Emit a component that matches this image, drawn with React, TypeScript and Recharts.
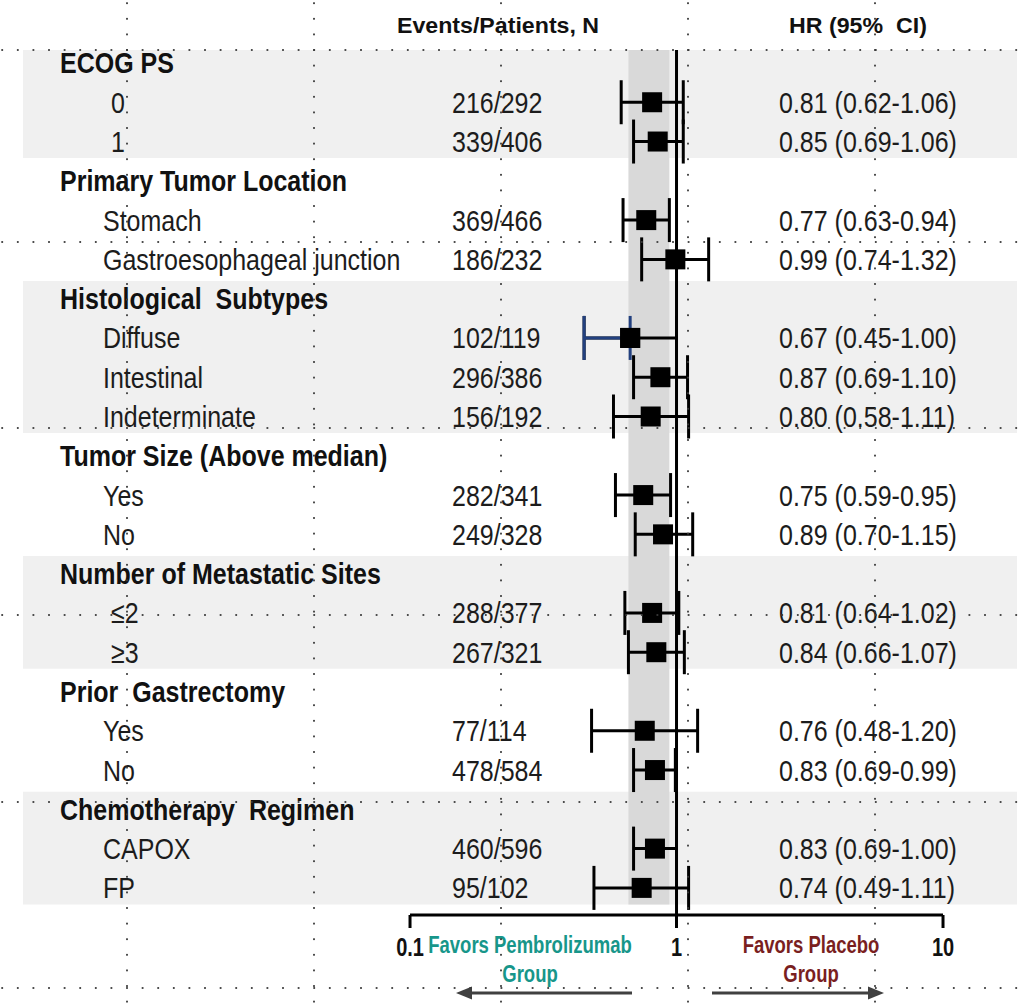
import React from 'react';
import {
  ComposedChart,
  Scatter,
  XAxis,
  YAxis,
  ErrorBar,
  ReferenceArea,
  ReferenceLine,
} from 'recharts';

// Subgroup analysis: events / patients and hazard ratios with 95% CI
const groupTitles = [
  'ECOG PS',
  'Primary Tumor Location',
  'Histological  Subtypes',
  'Tumor Size (Above median)',
  'Number of Metastatic Sites',
  'Prior  Gastrectomy',
  'Chemotherapy  Regimen',
];
const groupSizes = [2, 2, 3, 2, 2, 2, 2];
const subgroups = [
  '0', '1',
  'Stomach', 'Gastroesophageal junction',
  'Diffuse', 'Intestinal', 'Indeterminate',
  'Yes', 'No',
  '≤2', '≥3',
  'Yes', 'No',
  'CAPOX', 'FP',
];
const events = [216, 339, 369, 186, 102, 296, 156, 282, 249, 288, 267, 77, 478, 460, 95];
const patients = [292, 406, 466, 232, 119, 386, 192, 341, 328, 377, 321, 114, 584, 596, 102];
const hazardRatio = [0.81, 0.85, 0.77, 0.99, 0.67, 0.87, 0.8, 0.75, 0.89, 0.81, 0.84, 0.76, 0.83, 0.83, 0.74];
const ciLower = [0.62, 0.69, 0.63, 0.74, 0.45, 0.69, 0.58, 0.59, 0.7, 0.64, 0.66, 0.48, 0.69, 0.69, 0.49];
const ciUpper = [1.06, 1.06, 0.94, 1.32, 1.0, 1.1, 1.11, 0.95, 1.15, 1.02, 1.07, 1.2, 0.99, 1.0, 1.11];
const overallCI = [0.66, 0.94];
const hrTicks = [0.1, 1, 10];

const W = 1025;
const H = 1003;
const X_DOMAIN: [number, number] = [0.00353, 18.95];
const Y_MIN = -0.33;
const Y_MAX = 21.69;
const FONT = "'Liberation Sans', Arial, sans-serif";

type Row = { row: number; header: boolean; label: string; idx: number; group: number; hr: number };

const rows: Row[] = [];
let n = 0;
groupTitles.forEach((title, g) => {
  rows.push({ row: rows.length, header: true, label: title, idx: -1, group: g, hr: 1 });
  for (let j = 0; j < groupSizes[g]; j++) {
    rows.push({ row: rows.length, header: false, label: subgroups[n], idx: n, group: g, hr: 1 });
    n++;
  }
});

const points = rows
  .filter((r) => !r.header)
  .map((r) => {
    const hr = hazardRatio[r.idx];
    return {
      row: r.row,
      hr,
      label: r.label,
      err: [hr - ciLower[r.idx], ciUpper[r.idx] - hr],
      lowerErr: [hr - ciLower[r.idx], 0],
    };
  });

// the diffuse-type row has its lower whisker drawn in blue
const diffusePoints = points.filter((p) => p.label === 'Diffuse');

// alternate groups get a light background band
const bands = groupTitles
  .map((_, g) => {
    const gr = rows.filter((r) => r.group === g);
    return { g, y1: Math.max(Y_MIN, gr[0].row - 0.45), y2: gr[gr.length - 1].row + 0.42 };
  })
  .filter((b) => b.g % 2 === 0);

const lastRow = rows.length - 1;

const hrText = (i: number) =>
  `${hazardRatio[i].toFixed(2)} (${ciLower[i].toFixed(2)}-${ciUpper[i].toFixed(2)})`;

function Txt(props: {
  x: number;
  y: number;
  size: number;
  sx?: number;
  sy?: number;
  anchor?: 'start' | 'middle' | 'end';
  bold?: boolean;
  fill?: string;
  children: React.ReactNode;
}) {
  const { x, y, size, sx = 1, sy = 1.2, anchor = 'start', bold = false, fill = '#1c1c1c', children } = props;
  return (
    <text
      transform={`translate(${x},${y}) scale(${sx},${sy})`}
      textAnchor={anchor}
      fontSize={size}
      fontWeight={bold ? 700 : 400}
      fill={fill}
      fontFamily={FONT}
      style={{ whiteSpace: 'pre' }}
    >
      {children}
    </text>
  );
}

// table text for one row, placed at the row's y position
function RowText(props: any) {
  const { cy, payload } = props;
  const r: Row = payload;
  const base = cy + 10.5;
  if (r.header) {
    return (
      <Txt x={60} y={base} size={25} bold fill="#111">
        {r.label}
      </Txt>
    );
  }
  const i = r.idx;
  // numeric levels sit a little further in
  const lx = /\d/.test(r.label) ? 111 : 103;
  return (
    <g>
      <Txt x={lx} y={base} size={25}>{r.label}</Txt>
      <Txt x={452} y={base} size={25}>{`${events[i]}/${patients[i]}`}</Txt>
      <Txt x={779} y={base} size={25}>{hrText(i)}</Txt>
    </g>
  );
}

function HrTick(props: any) {
  const { x, payload } = props;
  return (
    <Txt x={x} y={956} size={20} sy={1.3} bold anchor="middle" fill="#111">
      {String(payload.value)}
    </Txt>
  );
}

const Square = (p: any) => <rect x={p.cx - 10} y={p.cy - 10} width={20} height={20} fill="#000" />;

// dotted layout grid drawn over the whole figure
function DotGrid() {
  const xs = [127, 314, 501, 688, 875];
  const ys = [50, 242, 428, 615, 802, 988];
  const pitch = 15.6;
  const dots: React.ReactNode[] = [];
  ys.forEach((y, a) => {
    for (let x = 127 - 8 * pitch; x < W; x += pitch) {
      dots.push(<rect key={`h${a}-${x.toFixed(1)}`} x={x - 0.9} y={y - 0.9} width={1.8} height={1.8} fill="#3a3a3a" />);
    }
  });
  xs.forEach((x, a) => {
    for (let y = 50 - 3 * pitch; y < H; y += pitch) {
      dots.push(<rect key={`v${a}-${y.toFixed(1)}`} x={x - 0.9} y={y - 0.9} width={1.8} height={1.8} fill="#3a3a3a" />);
    }
  });
  return <g>{dots}</g>;
}

export default function App() {
  return (
    <div style={{ position: 'absolute', left: 0, top: 0, width: W, height: H, background: '#fff' }}>
      <ComposedChart
        width={W}
        height={H}
        margin={{ top: 50, right: 8, bottom: 0, left: 23 }}
      >
        <XAxis
          dataKey="hr"
          type="number"
          scale="log"
          domain={X_DOMAIN}
          allowDataOverflow
          ticks={hrTicks}
          interval={0}
          axisLine={false}
          tickLine={{ stroke: '#000', strokeWidth: 3 }}
          tickSize={13}
          height={88}
          tick={<HrTick />}
        />
        <YAxis
          dataKey="row"
          type="number"
          domain={[Y_MIN, Y_MAX]}
          allowDataOverflow
          reversed
          hide
        />
        {bands.map((b) => (
          <ReferenceArea key={b.g} y1={b.y1} y2={b.y2} fill="#f0f0f0" fillOpacity={1} stroke="none" />
        ))}
        <ReferenceArea
          x1={overallCI[0]}
          x2={overallCI[1]}
          y1={Y_MIN}
          y2={lastRow + 0.42}
          fill="#d9d9d9"
          fillOpacity={1}
          stroke="none"
        />
        <ReferenceLine x={1} stroke="#000" strokeWidth={3} />
        <ReferenceLine
          segment={[
            { x: hrTicks[0], y: Y_MAX },
            { x: hrTicks[hrTicks.length - 1], y: Y_MAX },
          ]}
          stroke="#000"
          strokeWidth={3}
          ifOverflow="visible"
        />
        <Scatter data={rows} dataKey="hr" shape={RowText} isAnimationActive={false} />
        <Scatter data={points} dataKey="hr" shape={Square} isAnimationActive={false}>
          <ErrorBar dataKey="err" direction="x" width={22} strokeWidth={3} stroke="#000" isAnimationActive={false} />
        </Scatter>
        <Scatter data={diffusePoints} dataKey="hr" shape={Square} isAnimationActive={false}>
          <ErrorBar dataKey="lowerErr" direction="x" width={22} strokeWidth={3} stroke="#22407f" isAnimationActive={false} />
        </Scatter>
      </ComposedChart>
      <svg
        width={W}
        height={H}
        style={{ position: 'absolute', left: 0, top: 0, pointerEvents: 'none' }}
      >
        <Txt x={498} y={33} size={19} sx={1.22} sy={1.15} bold anchor="middle" fill="#111">
          Events/Patients, N
        </Txt>
        <Txt x={858} y={33} size={19} sx={1.22} sy={1.15} bold anchor="middle" fill="#111">
          HR (95%  CI)
        </Txt>
        <Txt x={530} y={953} size={18.5} sy={1.25} bold anchor="middle" fill="#17968a">
          Favors Pembrolizumab
        </Txt>
        <Txt x={530} y={982} size={18.5} sy={1.25} bold anchor="middle" fill="#17968a">
          Group
        </Txt>
        <Txt x={811} y={953} size={18.5} sy={1.25} bold anchor="middle" fill="#7a1f1f">
          Favors Placebo
        </Txt>
        <Txt x={811} y={982} size={18.5} sy={1.25} bold anchor="middle" fill="#7a1f1f">
          Group
        </Txt>
        <line x1={632} y1={993} x2={470} y2={993} stroke="#404040" strokeWidth={3} />
        <polygon points="456,993 472,986.5 472,999.5" fill="#404040" />
        <line x1={712} y1={993} x2={870} y2={993} stroke="#404040" strokeWidth={3} />
        <polygon points="884,993 868,986.5 868,999.5" fill="#404040" />
        <DotGrid />
      </svg>
    </div>
  );
}
